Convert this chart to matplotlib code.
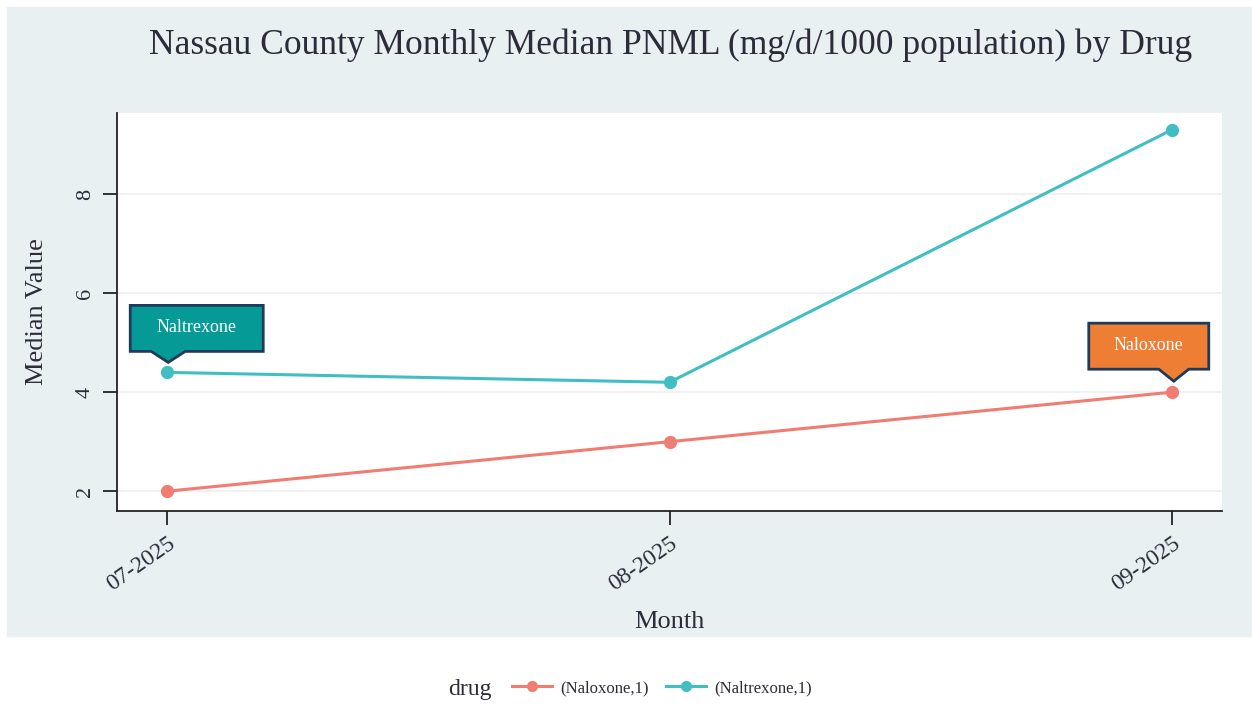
import matplotlib.pyplot as plt
import matplotlib.transforms as mtransforms
from matplotlib.patches import Rectangle, Polygon
from matplotlib.lines import Line2D

plt.rcParams['font.family'] = ['Liberation Serif', 'DejaVu Serif']

# data
months = ['07-2025', '08-2025', '09-2025']
naloxone = [2.0, 3.0, 4.0]
naltrexone = [4.4, 4.2, 9.3]
legend_labels = ['(Naloxone,1)', '(Naltrexone,1)']

c_nalox = '#F07C72'
c_naltr = '#40BEC3'
bg = '#E8F0F2'
ink = '#2B2B3A'

W, H = 1252, 707
fig = plt.figure(figsize=(W / 100, H / 100), dpi=100)
fig.patches.append(Rectangle((7 / W, 1 - 636 / H), (W - 7) / W, 629 / H,
                             transform=fig.transFigure, color=bg, zorder=-5))

ax = fig.add_axes([117 / W, 1 - 511 / H, (1222 - 117) / W, (511 - 113) / H])
ax.set_facecolor('white')
x = list(range(len(months)))

ax.plot(x, naloxone, color=c_nalox, lw=2.2, marker='o', ms=8.5, zorder=3)
ax.plot(x, naltrexone, color=c_naltr, lw=2.2, marker='o', ms=8.5, zorder=3)

ax.set_xlim(-0.1, 2.1)
ax.set_ylim(1.6, 9.64)
ax.set_xticks(x)
ax.set_xticklabels(months, rotation=35, ha='right', va='top', rotation_mode='anchor',
                   fontsize=17, color=ink)
ax.set_yticks([2, 4, 6, 8])
ax.set_yticklabels(['2', '4', '6', '8'], rotation=90, va='center', fontsize=16, color=ink)
ax.tick_params(axis='both', length=10, width=1.3, color='#222222', pad=6)
ax.grid(axis='y', color='#ECEFF1', lw=1.2)
ax.grid(axis='x', visible=False)
for side in ['top', 'right']:
    ax.spines[side].set_visible(False)
for side in ['left', 'bottom']:
    ax.spines[side].set_color('#222222')
    ax.spines[side].set_linewidth(1.3)

ax.set_xlabel('Month', fontsize=19, color=ink, labelpad=11)
ax.set_ylabel('Median Value', fontsize=19, color=ink, labelpad=20)

fig.text(671 / W, 1 - 45 / H, 'Nassau County Monthly Median PNML (mg/d/1000 population) by Drug',
         ha='center', va='center', fontsize=25.6, color=ink)


def callout(xd, yd, left, right, bottom, top, base_l, base_r, tip, face, label):
    # shape in inches relative to the data point
    tr = fig.dpi_scale_trans + mtransforms.ScaledTranslation(xd, yd, ax.transData)
    pts = [(left, bottom), (left, top), (right, top), (right, bottom),
           (base_r, bottom), ((base_l + base_r) / 2, tip), (base_l, bottom)]
    poly = Polygon(pts, closed=True, facecolor=face, edgecolor='#1F3A5A', lw=2,
                   transform=tr, clip_on=False, zorder=5)
    ax.add_patch(poly)
    ax.text((left + right) / 2, (top + bottom) / 2 + 0.01, label, transform=tr,
            ha='center', va='center', color='white', fontsize=13, zorder=6)


callout(0, naltrexone[0], -0.37, 0.96, 0.21, 0.67, -0.16, 0.18, 0.10, '#069A97', 'Naltrexone')
callout(2, naloxone[2], -0.83, 0.37, 0.23, 0.69, -0.13, 0.17, 0.11, '#EE7E33', 'Naloxone')

handles = [Line2D([], [], color=c_nalox, lw=2.2, marker='o', ms=7),
           Line2D([], [], color=c_naltr, lw=2.2, marker='o', ms=7)]
fig.legend(handles, legend_labels, loc='center', bbox_to_anchor=(662 / W, 1 - 688 / H),
           ncol=2, frameon=False, fontsize=12, handlelength=2.4, handletextpad=0.5,
           columnspacing=1.0, labelcolor=ink)
fig.text(470 / W, 1 - 690 / H, 'drug', ha='center', va='center', fontsize=17, color=ink)

fig.savefig('out.png', dpi=100, facecolor='white')
